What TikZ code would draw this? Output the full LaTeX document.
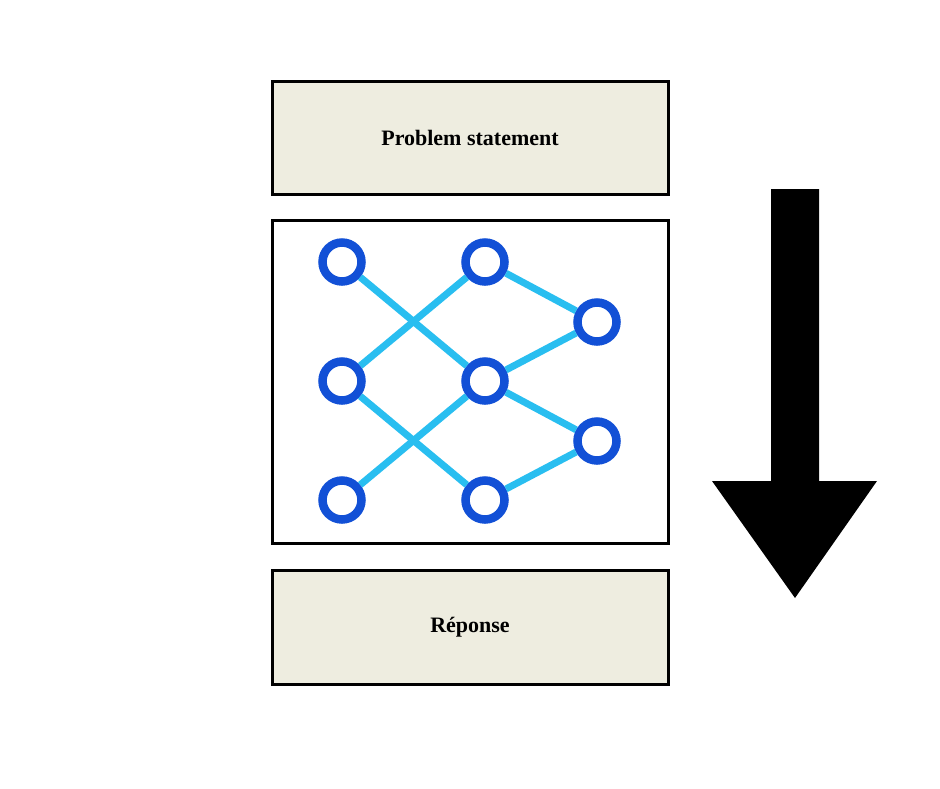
\documentclass[tikz,border=0pt]{standalone}
\usepackage{fontspec}
\setmainfont{Liberation Serif}
\definecolor{paper}{RGB}{238,237,224}
\definecolor{neuronblue}{RGB}{18,80,214}
\definecolor{wireblue}{RGB}{41,190,240}
\begin{document}
\begin{tikzpicture}[x=1pt,y=-1pt]
        	\tikzstyle{panel}=[rectangle, draw=black, line width=3pt, minimum width=396pt, font=\fontsize{22}{26}\selectfont\bfseries]
        	\tikzstyle{neuron}=[circle, draw=neuronblue, fill=white, line width=8.5pt, minimum size=39pt, inner sep=0pt]
        	\tikzstyle{wire}=[draw=wireblue, line width=7pt]
        	\useasboundingbox (0,0) rectangle (940,788);
        	% Panels
        	\node at (470,137.5) [panel, fill=paper, minimum height=113pt] (problem) {Problem statement};
        	\node at (470,381.5) [panel, minimum height=323pt] (network) {};
        	\node at (470,627) [panel, fill=paper, minimum height=114pt] (answer) {Réponse};
        	% Input
        	\foreach \y in {1,...,3}
        		\node at (342, 143+\y*119) [neuron] (in_\y) {};
        	% Hidden
        	\foreach \y in {1,...,3}
        		\node at (485, 143+\y*119) [neuron] (mid_\y) {};
        	% Output
        	\foreach \y in {1,...,2}
        		\node at (597, 203+\y*119) [neuron] (out_\y) {};
        	%---------------------%
        	% Input -> Hidden
        	\foreach \i/\j in {1/2,2/1,2/3,3/2}
        		\draw[wire] (in_\i) to (mid_\j);
        	% Hidden -> Output
        	\foreach \i/\j in {1/1,2/1,2/2,3/2}
        		\draw[wire] (mid_\i) to (out_\j);
        	%---------------------%
        	% Flow arrow
        	\fill[black] (771,189) -- (819,189) -- (819,481) -- (877,481) -- (795,598) -- (712,481) -- (771,481) -- cycle;
\end{tikzpicture}
\end{document}
